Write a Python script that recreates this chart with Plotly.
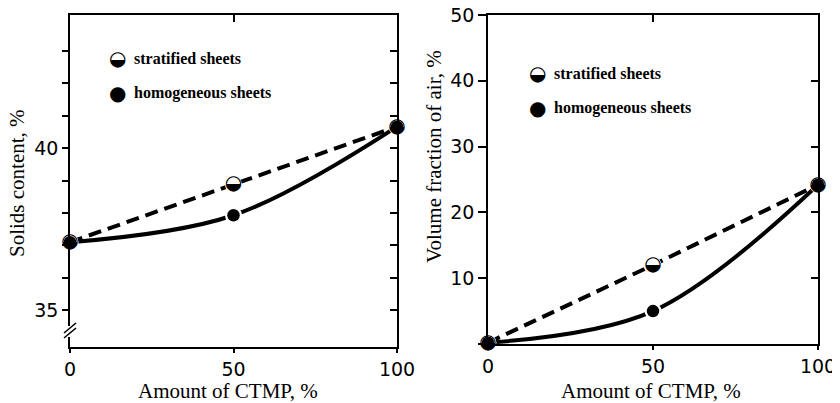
import plotly.graph_objects as go

# ---------------- data ----------------
ctmp = [0, 50, 100]
solids_homog = [37.1, 37.93, 40.66]
solids_strat = [37.1, 38.88, 40.66]
air_homog = [0.2, 5.0, 24.2]
air_strat = [0.2, 12.0, 24.2]

x_ticks = [0, 50, 100]
solids_ticks = [35, 36, 37, 38, 39, 40, 41, 42, 43]
solids_ticktext = ["35", "", "", "", "", "40", "", "", ""]
air_ticks = [0, 10, 20, 30, 40, 50]
air_ticktext = ["", "10", "20", "30", "40", "50"]
air_right_ticks = [10, 20, 30, 40]

x_title = "Amount of CTMP, %"
y_titles = ["Solids content, %", "Volume fraction of air, %"]
legend_labels = ["stratified sheets", "homogeneous sheets"]
legend_glyphs = ["\u25D2", "\u25CF"]

# ---------------- geometry helpers ----------------
# the page body has an 8px margin, so the figure starts at (8, 8) in the window
OFF = 8
W, H = 840 - OFF, 403 - OFF
def px(x):
    return (x - OFF) / W
def py(y):
    return 1 - (y - OFF) / H

TICK_FONT = dict(family="DejaVu Sans", size=19, color="black")
TITLE_FONT = dict(family="Liberation Serif", size=21, color="black")
LEG_FONT = dict(family="Liberation Serif", size=16, color="black")
GLYPH = "DejaVu Sans"
GLYPH_SIZE = 20

fig = go.Figure()

def add_panel(xa, ya, xo, yo, homog, strat):
    # lines on the main axes pair
    fig.add_trace(go.Scatter(x=ctmp, y=strat, mode="lines", xaxis=xa, yaxis=ya,
                             line=dict(color="black", width=4, dash="13px,7px"),
                             cliponaxis=False, showlegend=False, hoverinfo="skip"))
    fig.add_trace(go.Scatter(x=ctmp, y=homog, mode="lines", xaxis=xa, yaxis=ya,
                             line=dict(color="black", width=4, shape="spline"),
                             cliponaxis=False, showlegend=False, hoverinfo="skip"))
    # markers on the overlay axes pair (drawn above the lines)
    fig.add_trace(go.Scatter(x=ctmp, y=homog, mode="markers", xaxis=xo, yaxis=yo,
                             marker=dict(color="white", size=17),
                             cliponaxis=False, showlegend=False, hoverinfo="skip"))
    fig.add_trace(go.Scatter(x=ctmp[1:2], y=strat[1:2], mode="markers", xaxis=xo, yaxis=yo,
                             marker=dict(color="white", size=17),
                             cliponaxis=False, showlegend=False, hoverinfo="skip"))
    fig.add_trace(go.Scatter(x=ctmp, y=strat, mode="text", xaxis=xo, yaxis=yo,
                             text=[legend_glyphs[0]] * len(ctmp), textposition="middle center",
                             textfont=dict(family=GLYPH, size=GLYPH_SIZE, color="black"),
                             cliponaxis=False, showlegend=False, hoverinfo="skip"))
    fig.add_trace(go.Scatter(x=ctmp, y=homog, mode="markers", xaxis=xo, yaxis=yo,
                             marker=dict(color="black", size=12.5),
                             cliponaxis=False, showlegend=False, hoverinfo="skip"))

add_panel("x", "y", "x3", "y3", solids_homog, solids_strat)
add_panel("x2", "y2", "x4", "y4", air_homog, air_strat)

dom_x1 = [px(70), px(397)]
dom_x2 = [px(488), px(818)]
dom_y1 = [py(347), py(15)]
dom_y2 = [py(344), py(15)]

line_common = dict(showline=True, linecolor="black", linewidth=1.6, tickcolor="black",
                   tickwidth=1.6, showgrid=False, zeroline=False, fixedrange=True,
                   automargin=False, ticklabeloverflow="allow")

fig.update_layout(
    width=W, height=H, margin=dict(l=0, r=0, t=0, b=0, autoexpand=False),
    paper_bgcolor="white", plot_bgcolor="white", showlegend=False,
    xaxis=dict(domain=dom_x1, range=[0, 100], anchor="y", tickvals=x_ticks,
               ticks="outside", ticklen=4, tickfont=TICK_FONT, **line_common),
    yaxis=dict(domain=dom_y1, range=[33.87, 44.1], anchor="x", tickvals=solids_ticks,
               ticktext=solids_ticktext, ticks="outside", ticklen=6, tickfont=TICK_FONT,
               **line_common),
    xaxis3=dict(overlaying="x", side="top", anchor="y3", range=[0, 100], tickvals=[50],
                ticks="inside", ticklen=7, showticklabels=False, **line_common),
    yaxis3=dict(overlaying="y", side="right", anchor="x3", range=[33.87, 44.1],
                tickvals=solids_ticks, ticks="inside", ticklen=7, showticklabels=False,
                **line_common),
    xaxis2=dict(domain=dom_x2, range=[0, 100], anchor="y2", tickvals=x_ticks,
                ticks="outside", ticklen=4, tickfont=TICK_FONT, **line_common),
    yaxis2=dict(domain=dom_y2, range=[0, 50], anchor="x2", tickvals=air_ticks,
                ticktext=air_ticktext, ticks="outside", ticklen=8, tickfont=TICK_FONT,
                **line_common),
    xaxis4=dict(overlaying="x2", side="top", anchor="y4", range=[0, 100], tickvals=[50],
                ticks="inside", ticklen=7, showticklabels=False, **line_common),
    yaxis4=dict(overlaying="y2", side="right", anchor="x4", range=[0, 50],
                tickvals=air_right_ticks, ticks="inside", ticklen=7, showticklabels=False,
                **line_common),
)

annos = []
# axis titles
for cx in (228, 651):
    annos.append(dict(x=px(cx), y=py(391), xref="paper", yref="paper", text=x_title,
                      showarrow=False, xanchor="center", yanchor="middle", font=TITLE_FONT))
for cx, cy, t in [(17, 183, y_titles[0]), (434, 156, y_titles[1])]:
    annos.append(dict(x=px(cx), y=py(cy), xref="paper", yref="paper", text=t, textangle=-90,
                      showarrow=False, xanchor="center", yanchor="middle", font=TITLE_FONT))
# legends drawn inside each panel
for gx, tx, ys in [(117, 132, (58, 93)), (537, 552, (73, 108))]:
    for glyph, label, yy in zip(legend_glyphs, legend_labels, ys):
        annos.append(dict(x=px(gx), y=py(yy), xref="paper", yref="paper", text=glyph,
                          showarrow=False, xanchor="center", yanchor="middle",
                          font=dict(family=GLYPH, size=GLYPH_SIZE, color="black")))
        annos.append(dict(x=px(tx), y=py(yy), xref="paper", yref="paper",
                          text="<b>" + label + "</b>", showarrow=False,
                          xanchor="left", yanchor="middle", font=LEG_FONT))
fig.update_layout(annotations=annos)

# axis break on the left panel's y axis
shapes = [
    dict(type="line", xref="paper", yref="paper", x0=px(70), x1=px(70), y0=py(326), y1=py(337),
         line=dict(color="white", width=4), layer="above"),
    dict(type="line", xref="paper", yref="paper", x0=px(64), x1=px(76), y0=py(333), y1=py(323),
         line=dict(color="black", width=1.6), layer="above"),
    dict(type="line", xref="paper", yref="paper", x0=px(64), x1=px(76), y0=py(338), y1=py(328),
         line=dict(color="black", width=1.6), layer="above"),
]
fig.update_layout(shapes=shapes)

fig.write_html("out.html")
